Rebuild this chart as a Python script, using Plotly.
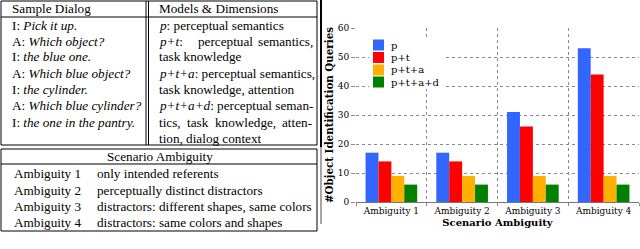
import plotly.graph_objects as go

# ---------------- data ----------------
categories = ["Ambiguity 1", "Ambiguity 2", "Ambiguity 3", "Ambiguity 4"]
series_names = ["p", "p+t", "p+t+a", "p+t+a+d"]
p_vals = [17, 17, 31, 53]
pt_vals = [14, 14, 26, 44]
pta_vals = [9, 9, 9, 9]
ptad_vals = [6, 6, 6, 6]
y_ticks = [0, 10, 20, 30, 40, 50, 60]
colors = ["#3366ff", "#ff0000", "#ffb000", "#008000"]

dialog_lines = [
    "I: <i>Pick it up.</i>",
    "A: <i>Which object?</i>",
    "I: <i>the blue one.</i>",
    "A: <i>Which blue object?</i>",
    "I: <i>the cylinder.</i>",
    "A: <i>Which blue cylinder?</i>",
    "I: <i>the one in the pantry.</i>",
]
ambiguity_labels = ["Ambiguity 1", "Ambiguity 2", "Ambiguity 3", "Ambiguity 4"]
ambiguity_desc = [
    "only intended referents",
    "perceptually distinct distractors",
    "distractors: different shapes, same colors",
    "distractors: same colors and shapes",
]

W, H = 640, 249


def px(x):
    return x / W


def py(y):
    return 1 - y / H


TFONT = "Liberation Serif"
TSIZE = 13.2
CFONT = "DejaVu Serif"

fig = go.Figure()
all_vals = [p_vals, pt_vals, pta_vals, ptad_vals]
for name, vals, col in zip(series_names, all_vals, colors):
    fig.add_trace(go.Bar(x=categories, y=vals, name=name,
                         marker=dict(color=col, line=dict(width=0)),
                         showlegend=False))

annotations = []
shapes = []


def txt(x, y, s, anchor="left", size=TSIZE, font=TFONT):
    annotations.append(dict(x=px(x), y=py(y), xref="paper", yref="paper",
                            text=s, showarrow=False, xanchor=anchor,
                            yanchor="middle",
                            font=dict(family=font, size=size, color="black")))


def hline(x0, x1, y, w=1, color="black"):
    shapes.append(dict(type="line", xref="paper", yref="paper",
                       x0=px(x0), x1=px(x1), y0=py(y), y1=py(y),
                       line=dict(color=color, width=w)))


def vline(x, y0, y1, w=1, color="black"):
    shapes.append(dict(type="line", xref="paper", yref="paper",
                       x0=px(x), x1=px(x), y0=py(y0), y1=py(y1),
                       line=dict(color=color, width=w)))


# ---------- top table ----------
hline(1, 317, 1)
hline(1, 317, 17)
hline(1, 317, 145)
vline(1, 1, 145)
vline(317, 1, 145)
vline(146, 1, 145)
vline(148.5, 1, 145)

txt(10, 8.5, "Sample Dialog")
row_y = [25, 41, 57, 73, 89, 106, 122, 138]
for s, y in zip(dialog_lines, row_y):
    txt(10, y, s)

txt(157, 8.5, "Models &amp; Dimensions")
txt(157, row_y[0], "<i>p</i>: perceptual semantics")
txt(157, row_y[1], "<i>p+t</i>:")
txt(225, row_y[1], "perceptual", anchor="center")
txt(315, row_y[1], "semantics,", anchor="right")
txt(157, row_y[2], "task knowledge")
txt(157, row_y[3], "<i>p+t+a</i>: perceptual semantics,")
txt(157, row_y[4], "task knowledge, attention")
txt(157, row_y[5], "<i>p+t+a+d</i>: perceptual seman-")
txt(157, row_y[6], "tics,")
txt(198, row_y[6], "task", anchor="center")
txt(245, row_y[6], "knowledge,", anchor="center")
txt(314, row_y[6], "atten-", anchor="right")
txt(157, row_y[7], "tion, dialog context")

# ---------- bottom table ----------
hline(1, 317, 149)
hline(1, 317, 164)
hline(1, 317, 231)
vline(1, 149, 231)
vline(317, 149, 231)
txt(160, 156.5, "Scenario Ambiguity", anchor="center")
for lab, desc, y in zip(ambiguity_labels, ambiguity_desc, [173, 190, 206, 222]):
    txt(12, y, lab)
    txt(95, y, desc)

# ---------- frame line of chart image ----------
vline(321, 0, 147, w=2, color="black")
vline(321, 147, 224, w=1.5, color="#888888")

# ---------- manual legend ----------
shapes.append(dict(type="rect", xref="paper", yref="paper",
                   x0=px(369), x1=px(444), y0=py(38), y1=py(89),
                   fillcolor="white", line=dict(width=0), layer="above"))
leg_y = [45, 57.5, 70, 82]
for name, col, y in zip(series_names, colors, leg_y):
    shapes.append(dict(type="rect", xref="paper", yref="paper",
                       x0=px(373), x1=px(384), y0=py(y - 5.5), y1=py(y + 5.5),
                       fillcolor=col, line=dict(width=0), layer="above"))
    txt(389, y, name, size=10, font=CFONT)

grid_kw = dict(showgrid=True, gridcolor="#8a8a8a", gridwidth=1, griddash="dot")

fig.update_layout(
    width=W, height=H,
    margin=dict(l=0, r=0, t=0, b=0),
    paper_bgcolor="white", plot_bgcolor="white",
    barmode="group", bargap=0.27, bargroupgap=0,
    font=dict(family=CFONT, size=9, color="black"),
    annotations=annotations, shapes=shapes,
    xaxis=dict(domain=[px(356), px(639)], type="category",
               tickson="boundaries", ticks="outside", ticklen=3,
               tickcolor="#8a8a8a",
               showline=True, linecolor="#777777", linewidth=1,
               tickfont=dict(family=CFONT, size=9, color="black"),
               title=dict(text="<b>Scenario Ambiguity</b>", standoff=4,
                          font=dict(family=CFONT, size=10, color="black")),
               automargin=False, **grid_kw),
    yaxis=dict(domain=[py(202), py(28)], range=[0, 60], tickvals=y_ticks,
               ticks="outside", ticklen=4, tickcolor="#8a8a8a",
               zeroline=False, showline=False,
               tickfont=dict(family=CFONT, size=9, color="black"),
               title=dict(text="<b>#Object Identification Queries</b>", standoff=2,
                          font=dict(family=CFONT, size=10.3, color="black")),
               automargin=False, **grid_kw),
)

fig.write_html("out.html",
               config={"displayModeBar": False},
               post_script="document.body.style.margin='0';document.body.style.padding='0';")
